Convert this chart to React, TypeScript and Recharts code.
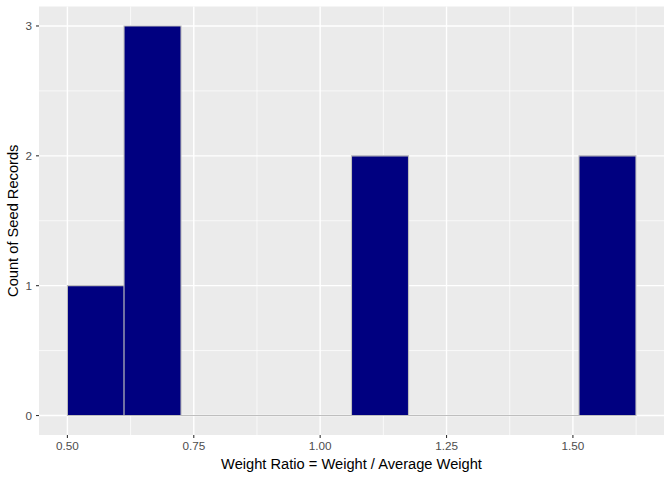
import React from 'react';
import { ComposedChart, Bar, XAxis, YAxis, CartesianGrid, ReferenceLine } from 'recharts';

// Histogram bins (10 bins from 0.5 to 1.624)
const binCenters = [0.556, 0.668, 0.781, 0.893, 1.006, 1.118, 1.230, 1.343, 1.455, 1.568];
const binCounts = [1, 3, 0, 0, 0, 2, 0, 0, 0, 2];
const binRange = [0.5, 1.624];

const xTicks = [0.5, 0.75, 1.0, 1.25, 1.5];
const xTickLabels = ['0.50', '0.75', '1.00', '1.25', '1.50'];
const xMinor = [0.625, 0.875, 1.125, 1.375, 1.625];
const yTicks = [0, 1, 2, 3];
const yMinor = [0.5, 1.5, 2.5];

const xDomain = [0.4438, 1.6802];
const yDomain = [-0.15, 3.15];

const data = binCenters.map((c, i) => ({ x: c, count: binCounts[i] }));

const FONT = '"Liberation Sans", Arial, sans-serif';

const YTitle = (props: any) => {
  const vb = props.viewBox || {};
  const cx = 13;
  const cy = vb.y + vb.height / 2;
  return (
    <text
      x={cx}
      y={cy}
      transform={`rotate(-90 ${cx} ${cy})`}
      textAnchor="middle"
      dominantBaseline="central"
      fontFamily={FONT}
      fontSize={14.67}
      fill="#000000"
    >
      Count of Seed Records
    </text>
  );
};

export default function App() {
  return (
    <div style={{ position: 'absolute', left: 0, top: 0, width: 672, height: 480, background: '#fff' }}>
      <ComposedChart
        width={672}
        height={480}
        data={data}
        margin={{ top: 6.5, right: 8, bottom: 0, left: 0 }}
        barCategoryGap={0}
        barGap={0}
      >
        <CartesianGrid
          fill="#EBEBEB"
          stroke="#FFFFFF"
          strokeWidth={0.7}
          horizontalValues={yMinor}
          verticalValues={xMinor}
        />
        <CartesianGrid
          stroke="#FFFFFF"
          strokeWidth={1.4}
          horizontalValues={yTicks}
          verticalValues={xTicks}
        />
        <XAxis
          dataKey="x"
          type="number"
          domain={xDomain}
          allowDataOverflow
          ticks={xTicks}
          tickFormatter={(v: number) => xTickLabels[xTicks.indexOf(v)] ?? String(v)}
          height={45}
          axisLine={false}
          tickSize={3}
          tickMargin={4}
          tickLine={{ stroke: '#333333', strokeWidth: 1.1 }}
          tick={{ fill: '#4D4D4D', fontSize: 11.73, fontFamily: FONT }}
          label={{
            value: 'Weight Ratio = Weight / Average Weight',
            position: 'insideBottom',
            offset: 11,
            fill: '#000000',
            fontSize: 14.67,
            fontFamily: FONT,
          }}
        />
        <YAxis
          type="number"
          domain={yDomain}
          allowDataOverflow
          ticks={yTicks}
          width={39}
          axisLine={false}
          tickSize={3}
          tickMargin={4}
          tickLine={{ stroke: '#333333', strokeWidth: 1.1 }}
          tick={{ fill: '#4D4D4D', fontSize: 11.73, fontFamily: FONT }}
          label={<YTitle />}
        />
        <ReferenceLine
          segment={[{ x: binRange[0], y: 0 }, { x: binRange[1], y: 0 }]}
          stroke="#BEBEBE"
          strokeWidth={1.1}
        />
        <Bar
          dataKey="count"
          fill="#000080"
          stroke="#BEBEBE"
          strokeWidth={1.1}
          isAnimationActive={false}
        />
      </ComposedChart>
    </div>
  );
}
